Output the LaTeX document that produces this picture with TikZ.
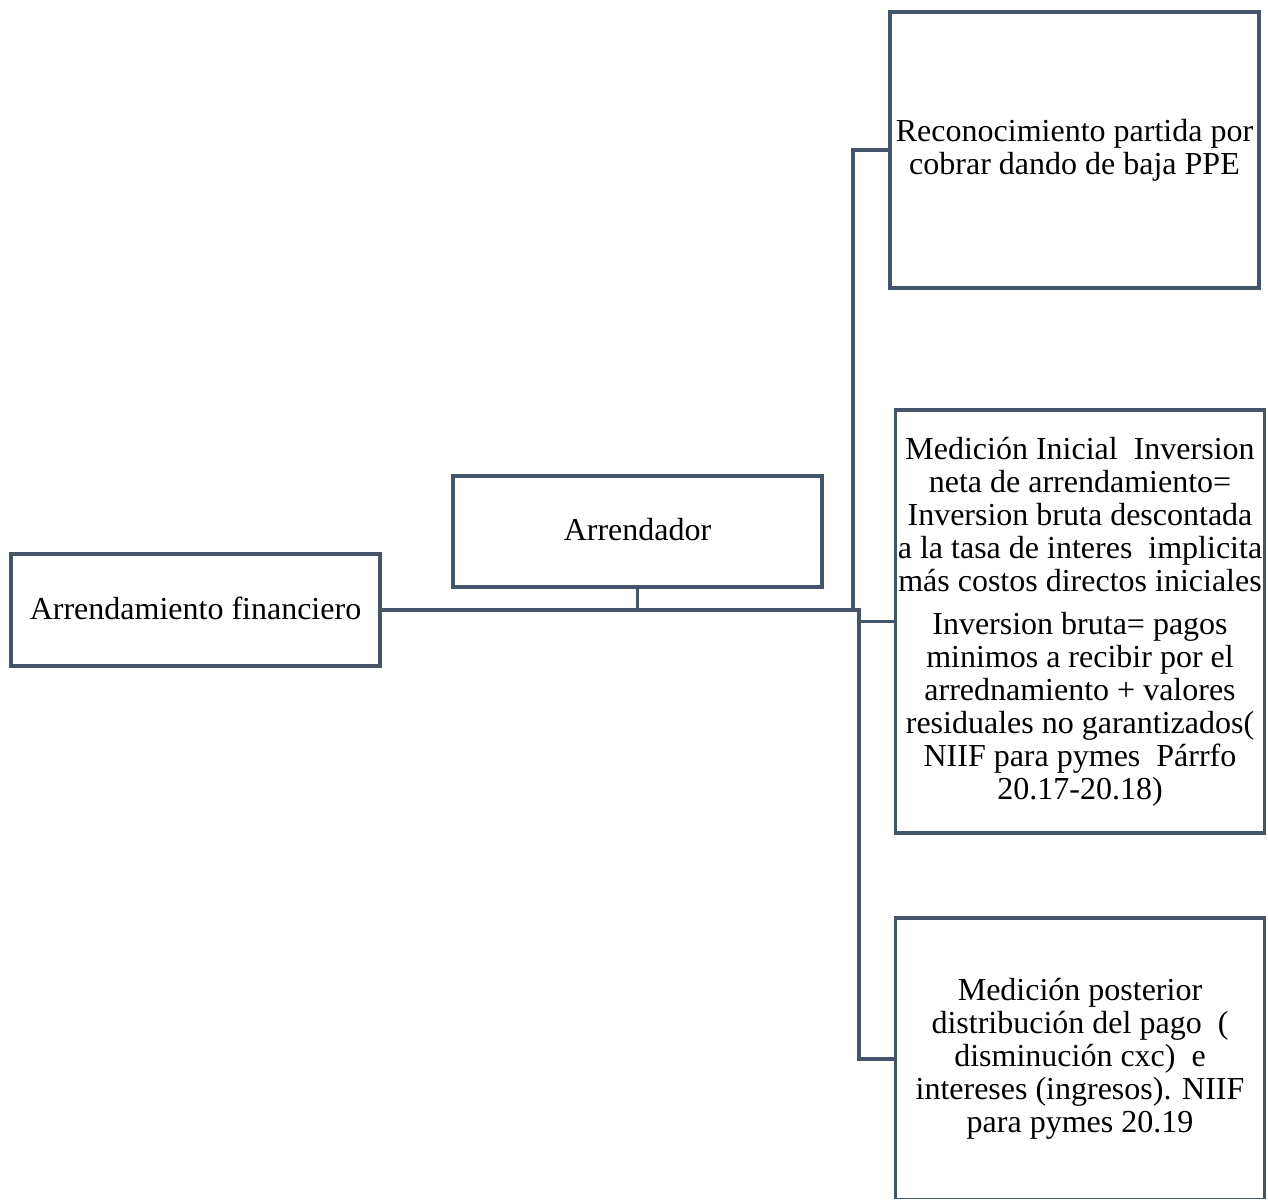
\documentclass[tikz,border=0pt]{standalone}
\usepackage{fontspec}
\setmainfont{Liberation Serif}
\definecolor{linec}{HTML}{44546A}
\newcommand\lstrut{\rule[-5pt]{0pt}{28pt}}
\tikzset{
  boxnode/.style={draw=linec, line width=3.2pt, fill=white, inner sep=0pt,
    minimum width=369pt, align=center,
    font=\fontsize{32}{33}\selectfont, text=black,
    execute at begin node=\lstrut, execute at end node=\lstrut},
  conn/.style={draw=linec, line width=3.2pt}
}
\begin{document}
\begin{tikzpicture}[x=1pt, y=-1pt]
\useasboundingbox (0,0) rectangle (1268,1201);
\clip (0,0) rectangle (1268,1198);
% nodes
\node[boxnode, minimum height=112pt] (A) at (195.5,610) {Arrendamiento financiero};
\node[boxnode, minimum height=111pt] (B) at (637.5,531.5) {Arrendador};
\node[boxnode, minimum height=276pt] (C1) at (1074.5,150) {Reconocimiento partida por\\cobrar dando de baja PPE};
\node[boxnode, minimum height=423pt] (C2) at (1080,621.5) {Medición Inicial\ \ Inversion\\neta de arrendamiento=\\Inversion bruta descontada\\a la tasa de interes\ \ implicita\\más costos directos iniciales\\[10pt]Inversion bruta= pagos\\minimos a recibir por el\\arrednamiento + valores\\residuales no garantizados(\\NIIF para pymes\ \ Párrfo\\20.17-20.18)};
\node[boxnode, minimum height=282pt] (C3) at (1080,1059) {Medición posterior\\distribución del pago\ \ (\\disminución cxc)\ \ e\\intereses (ingresos). NIIF\\para pymes 20.19};
% junction columns
\coordinate (ju) at (853,610);
\coordinate (jd) at (859,610);
% connectors
\draw[conn] (B.south) -- (B.south |- A.east);
\draw[conn] (A.east) -| (ju |- C1.west) -- (C1.west);
\draw[conn] (A.east) -| (jd |- C2.west) -- (C2.west);
\draw[conn] (A.east) -| (jd |- C3.west) -- (C3.west);
\end{tikzpicture}
\end{document}
